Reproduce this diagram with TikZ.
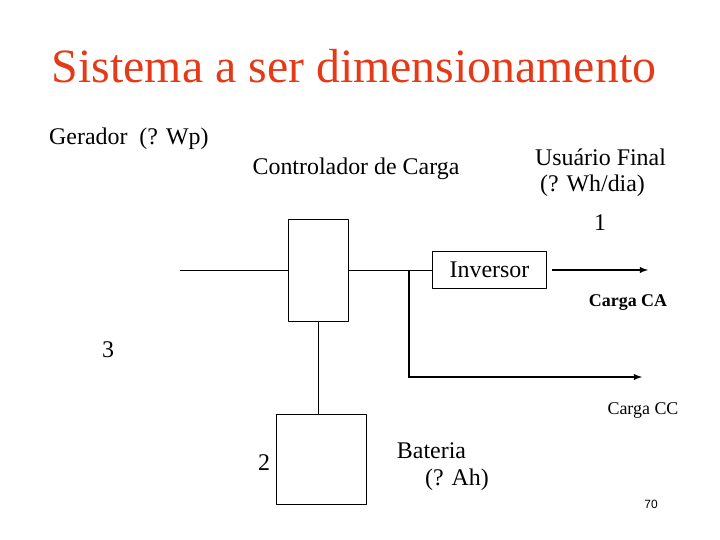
\documentclass[tikz,border=0pt]{standalone}
\usepackage{fontspec}
\setmainfont{Liberation Serif}
\newfontfamily\pagefont{Liberation Sans}
\usetikzlibrary{positioning}
\definecolor{titlered}{HTML}{E53A17}

\begin{document}
\begin{tikzpicture}[>=latex,line join=bevel,
  blockbox/.style={draw,line width=0.8bp,minimum width=#1,inner sep=0pt},
  txt/.style={inner sep=0pt,font=\fontsize{24}{28}\selectfont},
  wire/.style={line width=0.8bp},
  heavywire/.style={line width=1.8bp},
  ]
\useasboundingbox (0bp,0bp) rectangle (720bp,540bp);
%%
\node (title) at (354bp,474bp) [inner sep=0pt,text=titlered,font=\fontsize{48}{54}\selectfont] {Sistema a ser dimensionamento};
  \node (gerador) at (49bp,401bp) [txt,anchor=west] {Gerador~~(? Wp)};
  \node (controlador) at (356bp,371bp) [txt] {Controlador de Carga};
  \node (usuario) at (600.5bp,383bp) [txt] {Usuário Final};
  \node (consumo) at (592.5bp,354bp) [txt] {(? Wh/dia)};
  \node (num_1) at (600bp,317bp) [txt] {1};
  \node (num_3) at (108bp,190bp) [txt] {3};
  \node (num_2) at (264bp,77bp) [txt] {2};
%
\node (ctrl) at (318.3bp,270bp) [blockbox=60bp,minimum height=102bp] {};
  \node (inv) at (489.5bp,270bp) [blockbox=114bp,minimum height=37bp,font=\fontsize{24}{28}\selectfont] {Inversor};
  \node (bat) at (321.3bp,81bp) [blockbox=90.7bp,minimum height=90bp] {};
  \node (bateria) at (431.5bp,89bp) [txt] {Bateria};
  \node (capacidade) at (457bp,60bp) [txt] {(? Ah)};
  \node (carga_ca) at (628bp,237bp) [inner sep=0pt,font=\fontsize{18}{21}\selectfont\bfseries] {Carga CA};
  \node (carga_cc) at (643bp,130bp) [inner sep=0pt,font=\fontsize{18}{21}\selectfont] {Carga CC};
  \node (page) at (651bp,36bp) [inner sep=0pt,font=\pagefont\fontsize{12}{14}\selectfont] {70};
%
\coordinate (gen_end) at (180bp,270bp);
  \coordinate (junction) at (408.7bp,270bp);
  \coordinate (cc_corner) at (408.7bp,163bp);
  \coordinate (cc_end) at (642bp,163bp);
  \coordinate (ca_start) at (552bp,270bp);
  \coordinate (ca_end) at (648bp,270bp);
  \draw [wire] (gen_end) -- (ctrl.west);
  \draw [wire] (ctrl.east) -- (inv.west);
  \draw [wire] (ctrl.south) -- (ctrl.south |- bat.north);
  \draw [heavywire,line join=miter,->] (junction) -- (cc_corner) -- (cc_end);
  \draw [heavywire,->] (ca_start) -- (ca_end);
%
\end{tikzpicture}
\end{document}
